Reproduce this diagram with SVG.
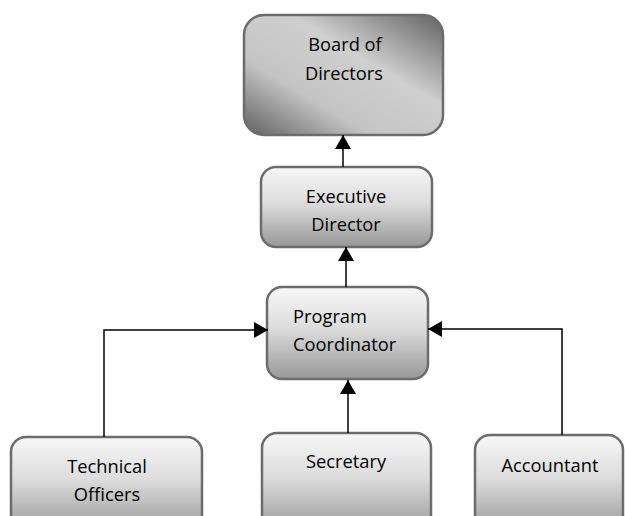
<svg xmlns="http://www.w3.org/2000/svg" width="625" height="516" viewBox="0 0 625 516">
<defs>
<linearGradient id="gBox" x1="0" y1="0" x2="0" y2="1">
<stop offset="0" stop-color="#f7f7f7"/>
<stop offset="0.45" stop-color="#dcdcdc"/>
<stop offset="1" stop-color="#989898"/>
</linearGradient>
<linearGradient id="gBoard" x1="0" y1="1" x2="1" y2="0">
<stop offset="0" stop-color="#606060"/>
<stop offset="0.32" stop-color="#c4c4c4"/>
<stop offset="0.62" stop-color="#cfcfcf"/>
<stop offset="1" stop-color="#626262"/>
</linearGradient>
<marker id="arr" viewBox="0 0 14 16" refX="14" refY="8" markerWidth="14" markerHeight="16" markerUnits="userSpaceOnUse" orient="auto">
<path d="M0,0 L14,8 L0,16 Z" fill="#000"/>
</marker>
</defs>
<style>
.box{stroke:#6c6c6c;stroke-width:2.5;fill:url(#gBox)}
.board{stroke:#6c6c6c;stroke-width:2.5;fill:url(#gBoard)}
.t{font-family:"Open Sans","Liberation Sans",sans-serif;font-size:18.3px;fill:#000}
.c{text-anchor:middle}
.ln{fill:none;stroke:#000;stroke-width:1.5}
</style>
<g id="board">
<rect class="board" x="244" y="15" width="199" height="120" rx="20"/>
<text class="t c" x="345" y="51">Board of</text>
<text class="t c" x="344" y="80">Directors</text>
</g>
<g id="executive">
<rect class="box" x="261" y="167" width="171" height="80" rx="15"/>
<text class="t c" x="346" y="203">Executive</text>
<text class="t c" x="346" y="231">Director</text>
</g>
<g id="coordinator">
<rect class="box" x="267" y="287" width="161" height="92" rx="15"/>
<text class="t" x="293" y="323">Program</text>
<text class="t" x="293" y="351">Coordinator</text>
</g>
<g id="technical">
<rect class="box" x="11" y="437" width="191" height="95" rx="15"/>
<text class="t c" x="107" y="473">Technical</text>
<text class="t c" x="107" y="501">Officers</text>
</g>
<g id="secretary">
<rect class="box" x="262" y="433" width="169" height="99" rx="15"/>
<text class="t c" x="346" y="468">Secretary</text>
</g>
<g id="accountant">
<rect class="box" x="475" y="435" width="148" height="97" rx="15"/>
<text class="t c" x="550" y="472">Accountant</text>
</g>
<g id="connectors">
<line class="ln" x1="343" y1="167" x2="343" y2="135" marker-end="url(#arr)"/>
<line class="ln" x1="346" y1="287" x2="346" y2="247" marker-end="url(#arr)"/>
<path class="ln" d="M104,437 V330 H268" marker-end="url(#arr)"/>
<line class="ln" x1="348" y1="433" x2="348" y2="380" marker-end="url(#arr)"/>
<path class="ln" d="M562,435 V329 H428" marker-end="url(#arr)"/>
</g>
</svg>
